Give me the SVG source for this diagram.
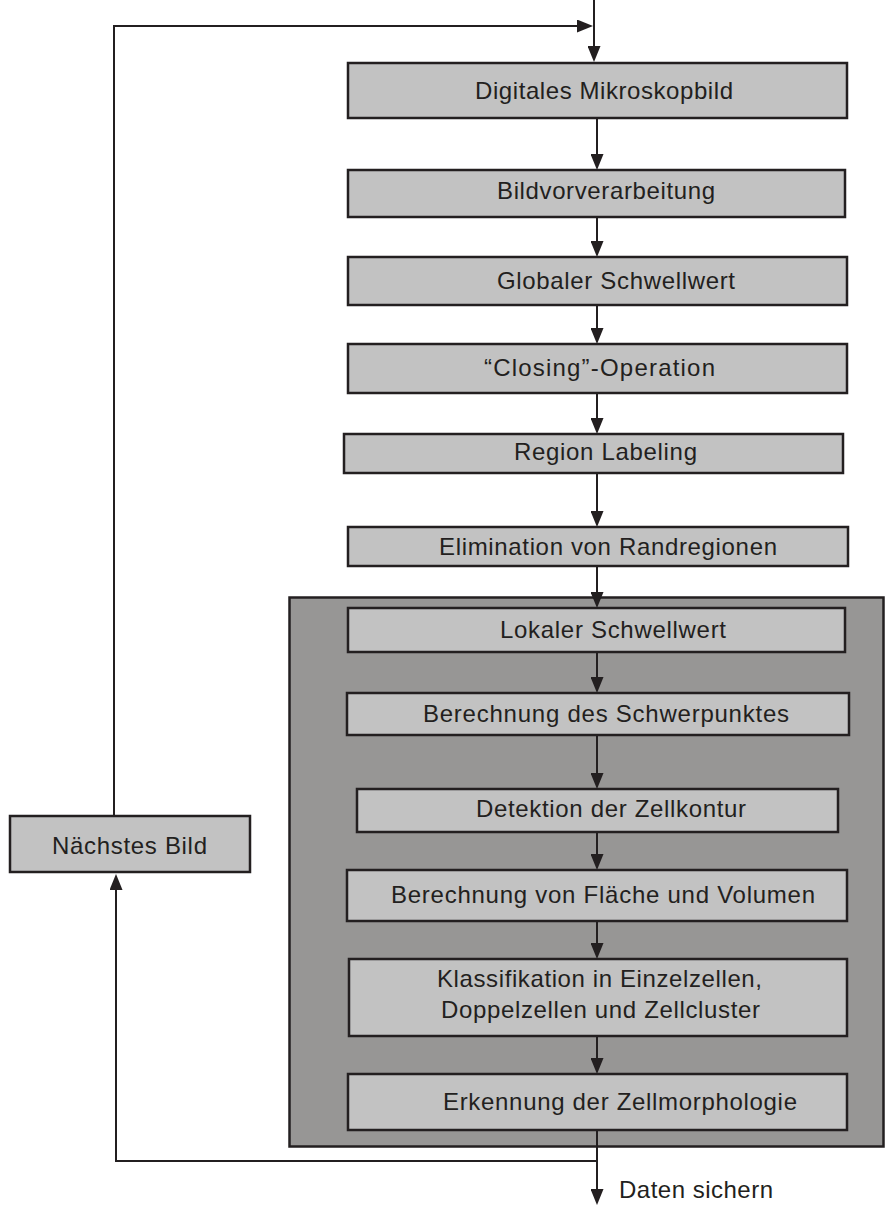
<svg xmlns="http://www.w3.org/2000/svg" width="885" height="1206" viewBox="0 0 885 1206">
<style>
.box{fill:#c2c2c2;stroke:#231f20;stroke-width:2.5}
.cont{fill:#979695;stroke:#231f20;stroke-width:2.5}
.lbl{font-family:"Liberation Sans",Arial,sans-serif;font-size:24px;fill:#231f20}
.ln{fill:none;stroke:#231f20;stroke-width:2}
.arr{fill:none;stroke:#231f20;stroke-width:2;marker-end:url(#ah)}
</style>
<defs>
<marker id="ah" markerUnits="userSpaceOnUse" markerWidth="16" markerHeight="13" refX="12" refY="6.5" orient="auto">
<path d="M0,0 L16,6.5 L0,13 z" fill="#231f20"/>
</marker>
</defs>
<rect width="885" height="1206" fill="#ffffff"/>
<g id="container"><rect class="cont" x="289.5" y="597.5" width="594" height="549"/></g>
<g id="connectors">
<line class="arr" x1="594" y1="0" x2="594" y2="58"/>
<polyline class="arr" points="114,816 114,26 589,26"/>
<line class="arr" x1="597" y1="118" x2="597" y2="166"/>
<line class="arr" x1="597" y1="217" x2="597" y2="253"/>
<line class="arr" x1="597" y1="305" x2="597" y2="340"/>
<line class="arr" x1="597" y1="393" x2="597" y2="430"/>
<line class="arr" x1="597" y1="473" x2="597" y2="523"/>
<line class="arr" x1="597" y1="566" x2="597" y2="604"/>
<line class="arr" x1="597" y1="652" x2="597" y2="689"/>
<line class="arr" x1="597" y1="735" x2="597" y2="785"/>
<line class="arr" x1="597" y1="832" x2="597" y2="866"/>
<line class="arr" x1="597" y1="921" x2="597" y2="955"/>
<line class="arr" x1="597" y1="1036" x2="597" y2="1070"/>
<line class="arr" x1="597" y1="1130" x2="597" y2="1201"/>
<polyline class="arr" points="597,1161 116,1161 116,878"/>
</g>
<g id="n1"><rect class="box" x="348" y="63" width="499" height="55"/><text class="lbl" x="475" y="99" textLength="258" lengthAdjust="spacing">Digitales Mikroskopbild</text></g>
<g id="n2"><rect class="box" x="348" y="170" width="497" height="47"/><text class="lbl" x="497" y="199" textLength="218" lengthAdjust="spacing">Bildvorverarbeitung</text></g>
<g id="n3"><rect class="box" x="348" y="257" width="499" height="48"/><text class="lbl" x="497" y="289" textLength="238" lengthAdjust="spacing">Globaler Schwellwert</text></g>
<g id="n4"><rect class="box" x="348" y="344" width="499" height="49"/><text class="lbl" x="484" y="376" textLength="231" lengthAdjust="spacing">“Closing”-Operation</text></g>
<g id="n5"><rect class="box" x="344" y="434" width="499" height="39"/><text class="lbl" x="514" y="460" textLength="183" lengthAdjust="spacing">Region Labeling</text></g>
<g id="n6"><rect class="box" x="348" y="527" width="500" height="39"/><text class="lbl" x="439" y="555" textLength="338" lengthAdjust="spacing">Elimination von Randregionen</text></g>
<g id="n7"><rect class="box" x="348" y="608" width="497" height="44"/><text class="lbl" x="500" y="638" textLength="226" lengthAdjust="spacing">Lokaler Schwellwert</text></g>
<g id="n8"><rect class="box" x="347" y="693" width="502" height="42"/><text class="lbl" x="423" y="722" textLength="366" lengthAdjust="spacing">Berechnung des Schwerpunktes</text></g>
<g id="n9"><rect class="box" x="357" y="789" width="481" height="43"/><text class="lbl" x="476" y="817" textLength="270" lengthAdjust="spacing">Detektion der Zellkontur</text></g>
<g id="n10"><rect class="box" x="347" y="870" width="500" height="51"/><text class="lbl" x="391" y="903" textLength="424" lengthAdjust="spacing">Berechnung von Fläche und Volumen</text></g>
<g id="n11"><rect class="box" x="349" y="959" width="498" height="77"/><text class="lbl" x="437" y="987" textLength="325" lengthAdjust="spacing">Klassifikation in Einzelzellen,</text><text class="lbl" x="441" y="1018" textLength="319" lengthAdjust="spacing">Doppelzellen und Zellcluster</text></g>
<g id="n12"><rect class="box" x="348" y="1074" width="499" height="56"/><text class="lbl" x="443" y="1110" textLength="354" lengthAdjust="spacing">Erkennung der Zellmorphologie</text></g>
<g id="n13"><rect class="box" x="10" y="816" width="240" height="56"/><text class="lbl" x="52" y="854" textLength="155" lengthAdjust="spacing">Nächstes Bild</text></g>
<g id="out"><text class="lbl" x="619" y="1198" textLength="154" lengthAdjust="spacing">Daten sichern</text></g>
</svg>
